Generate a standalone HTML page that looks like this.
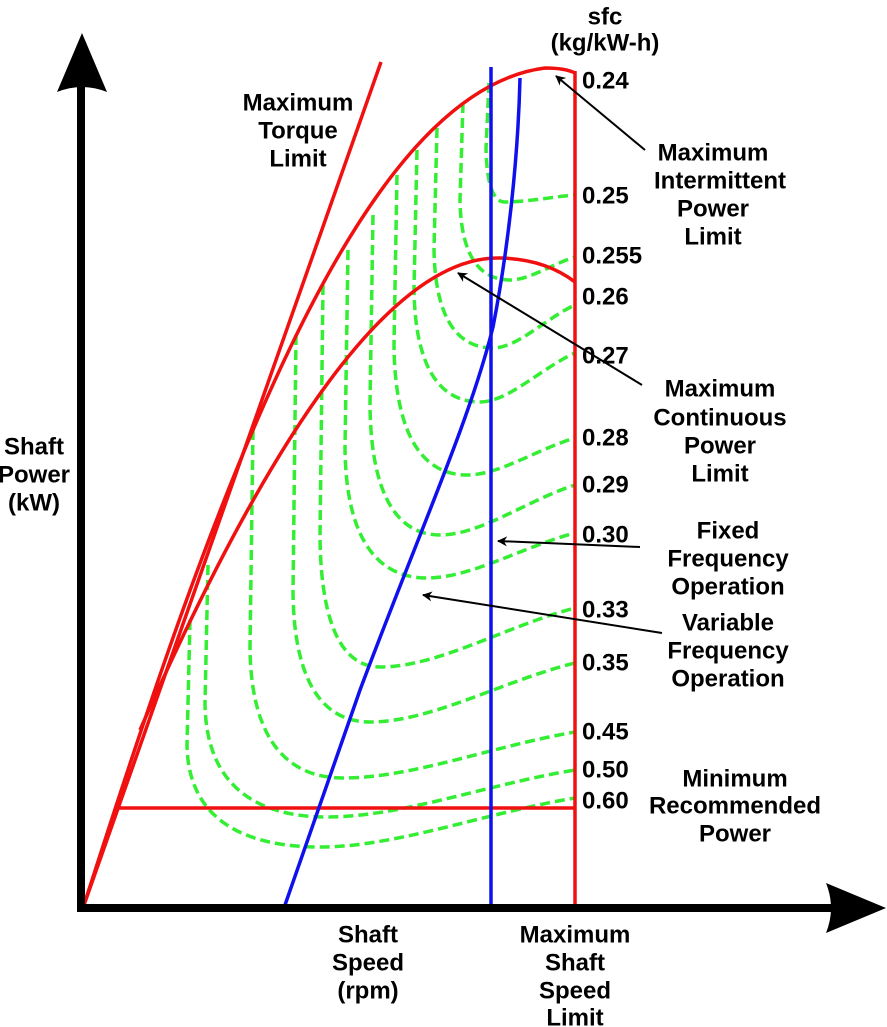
<!DOCTYPE html>
<html><head><meta charset="utf-8"><style>
html,body{margin:0;padding:0;background:#fff}
svg{display:block}
text{font-family:"Liberation Sans",Arial,sans-serif;font-weight:bold;font-size:24px;fill:#000}
</style></head><body>
<svg id="s" width="887" height="1027" viewBox="0 0 887 1027" xmlns="http://www.w3.org/2000/svg">
<defs><marker id="ah" markerWidth="10" markerHeight="10" refX="9" refY="5" orient="auto" markerUnits="userSpaceOnUse"><path d="M0,0 L10,5 L0,10 L3,5 Z" fill="#000"/></marker></defs>
<g id="greens" fill="none" stroke="#33ee33" stroke-width="3.5" stroke-dasharray="10,5"></g>
<g fill="none" stroke="#f01010" stroke-width="3.5">
<path d="M84,905 L381,62"/>
<path d="M84,905 C212,505 355,92 545,68 Q565,68 575,73"/>
<path d="M140,730 C250,480 380,255 500,258 Q545,259 575,282"/>
<path d="M118,808 L575,808"/>
<path d="M575,71 L575,905"/>
</g>
<g fill="none" stroke="#1010ee" stroke-width="3.5">
<path d="M491,67 L491,905"/>
<path d="M285,905 L360,690 C420,530 470,420 493,327 C508,250 518,160 520,78"/>
</g>
<rect x="77" y="85" width="8" height="827" fill="#000"/>
<rect x="77" y="904" width="760" height="8" fill="#000"/>
<path d="M82,33 L107,92 Q82,82 57,92 Z" fill="#000"/>
<path d="M886,908 L826,933 Q836,908 826,883 Z" fill="#000"/>
<g stroke="#000" stroke-width="2" fill="none" marker-end="url(#ah)">
<line x1="645" y1="150" x2="556" y2="76"/>
<line x1="642" y1="385" x2="458" y2="273"/>
<line x1="640" y1="547" x2="498" y2="541"/>
<line x1="662" y1="633" x2="423" y2="595"/>
</g>
<g text-anchor="middle" dominant-baseline="central">
<text x="605" y="17">sfc</text><text x="605" y="43">(kg/kW-h)</text>
<text x="298" y="103">Maximum</text><text x="298" y="131">Torque</text><text x="298" y="159">Limit</text>
<text x="713" y="153">Maximum</text><text x="720" y="181">Intermittent</text><text x="713" y="209">Power</text><text x="713" y="237">Limit</text>
<text x="720" y="389">Maximum</text><text x="720" y="418">Continuous</text><text x="720" y="446">Power</text><text x="720" y="474">Limit</text>
<text x="728" y="531">Fixed</text><text x="728" y="559">Frequency</text><text x="728" y="587">Operation</text>
<text x="728" y="623">Variable</text><text x="728" y="651">Frequency</text><text x="728" y="679">Operation</text>
<text x="735" y="779">Minimum</text><text x="735" y="806">Recommended</text><text x="735" y="834">Power</text>
<text x="34" y="447">Shaft</text><text x="34" y="475">Power</text><text x="34" y="503">(kW)</text>
<text x="368" y="935">Shaft</text><text x="368" y="963">Speed</text><text x="368" y="991">(rpm)</text>
<text x="575" y="935">Maximum</text><text x="575" y="963">Shaft</text><text x="575" y="991">Speed</text><text x="575" y="1018">Limit</text>
</g>
<g dominant-baseline="central">
<text x="582" y="81">0.24</text><text x="582" y="196">0.25</text><text x="582" y="256">0.255</text><text x="582" y="297">0.26</text>
<text x="582" y="356">0.27</text><text x="582" y="438">0.28</text><text x="582" y="485">0.29</text><text x="582" y="535">0.30</text>
<text x="582" y="610">0.33</text><text x="582" y="663">0.35</text><text x="582" y="732">0.45</text><text x="582" y="770">0.50</text><text x="582" y="801">0.60</text>
</g>
</svg>
<script>
var D=[[489,83,505,202,195],[463,103,510,280,257],[437,128,493,348,305],[417,150,480,402,353],[397,175,467,475,438],[373,215,440,535,485],[348,250,427,578,533],[323,285,380,667,608],[296,335,370,722,663],[253,430,343,778,732],[208,565,327,817,770],[190,620,320,847,798]];
var g=document.getElementById('greens'),h='';
D.forEach(function(d){var xt=d[0],yt=d[1],xb=d[2],yb=d[3],ye=d[4];var xv=xt-3;var hh=Math.min(130,(yb-yt)*0.45);
var p='M'+xt+','+yt+' L'+xv+','+(yb-hh)+' C'+(xv+1)+','+(yb-hh*0.25)+' '+(xb-(xb-xv)*0.55)+','+yb+' '+xb+','+yb+' C'+(xb+(575-xb)*0.3)+','+yb+' '+(575-(575-xb)*0.35)+','+(ye+(yb-ye)*0.3)+' 575,'+ye;
h+='<path d="'+p+'"/>';});
g.innerHTML=h;
</script>
</body></html>
